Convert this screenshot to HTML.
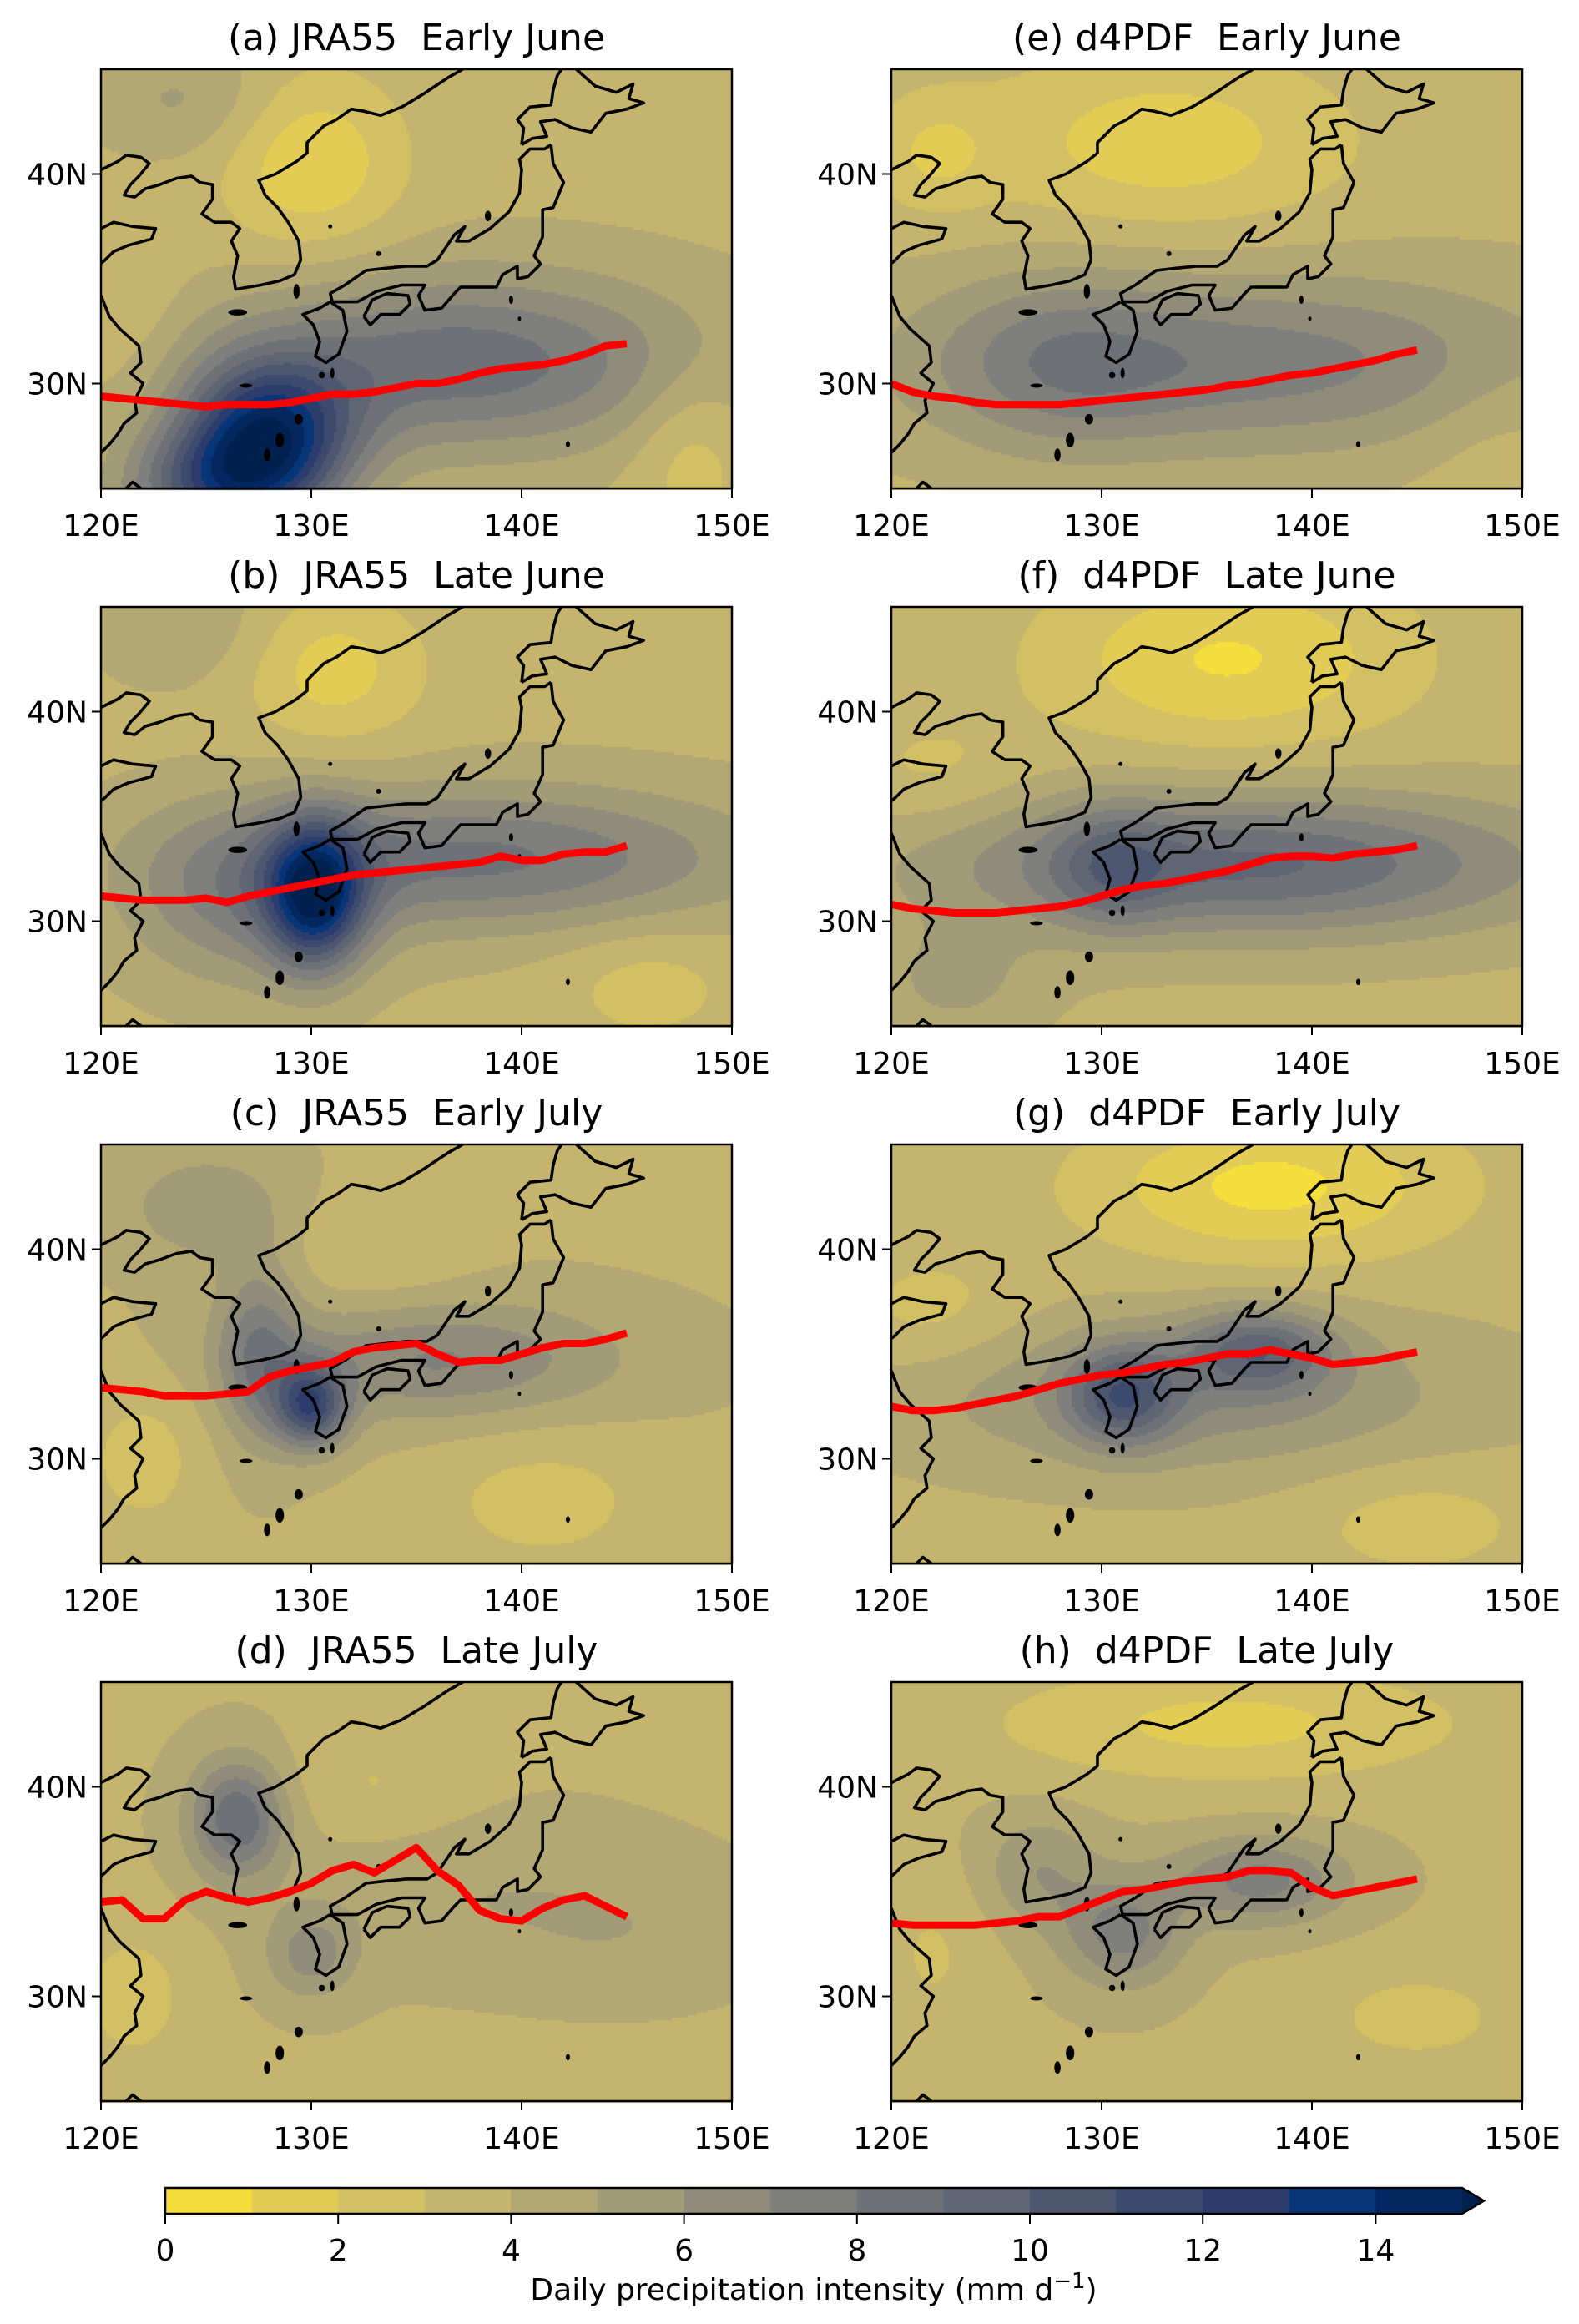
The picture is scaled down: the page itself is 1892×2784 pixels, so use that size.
<!DOCTYPE html>
<html><head><meta charset="utf-8">
<style>
html,body{margin:0;padding:0;background:#fff;}
#wrap{position:relative;width:1892px;height:2784px;overflow:hidden;font-family:"DejaVu Sans","Liberation Sans",sans-serif;color:#000;}
canvas{position:absolute;left:0;top:0;}
svg{position:absolute;left:0;top:0;}
svg text{white-space:pre;}
</style></head>
<body>
<div id="wrap">
<canvas id="cv" width="1892" height="2784"></canvas>
<svg id="sv" width="1892" height="2784" xmlns="http://www.w3.org/2000/svg"></svg>
</div>
<script>
// ---- data ----
const panelTitles = ["(a) JRA55  Early June","(b)  JRA55  Late June","(c)  JRA55  Early July","(d)  JRA55  Late July",
                     "(e) d4PDF  Early June","(f)  d4PDF  Late June","(g)  d4PDF  Early July","(h)  d4PDF  Late July"];
const frontLons = [120,121,122,123,124,125,126,127,128,129,130,131,132,133,134,135,136,137,138,139,140,141,142,143,144,145];
const frontA = [29.4,29.3,29.2,29.1,29.0,28.9,29.0,29.0,29.0,29.1,29.3,29.5,29.5,29.6,29.8,30.0,30.0,30.2,30.5,30.7,30.8,30.9,31.1,31.4,31.8,31.9];
const frontB = [31.2,31.1,31.0,31.0,31.0,31.1,30.9,31.2,31.4,31.6,31.8,32.0,32.2,32.3,32.4,32.5,32.6,32.7,32.8,33.1,32.9,32.9,33.2,33.3,33.3,33.6];
const frontC = [33.4,33.3,33.2,33.0,33.0,33.0,33.1,33.2,33.9,34.2,34.4,34.6,35.1,35.3,35.4,35.5,35.0,34.6,34.7,34.7,35.0,35.3,35.5,35.5,35.7,36.0];
const frontD = [34.5,34.6,33.7,33.7,34.6,35.0,34.7,34.5,34.7,35.0,35.4,36.0,36.3,35.9,36.5,37.1,36.0,35.3,34.1,33.7,33.6,34.2,34.6,34.8,34.3,33.8];
const frontE = [30.0,29.6,29.4,29.3,29.1,29.0,29.0,29.0,29.0,29.1,29.2,29.3,29.4,29.5,29.6,29.7,29.9,30.0,30.2,30.4,30.5,30.7,30.9,31.1,31.4,31.6];
const frontF = [30.8,30.6,30.5,30.4,30.4,30.4,30.5,30.6,30.7,30.9,31.2,31.5,31.7,31.8,32.0,32.2,32.4,32.7,33.0,33.1,33.1,33.0,33.2,33.3,33.4,33.6];
const frontG = [32.5,32.3,32.3,32.4,32.6,32.8,33.0,33.3,33.6,33.8,34.0,34.1,34.3,34.5,34.6,34.8,35.0,35.0,35.2,35.0,34.8,34.5,34.6,34.7,34.9,35.1];
const frontH = [33.5,33.4,33.4,33.4,33.4,33.5,33.6,33.8,33.8,34.2,34.6,35.0,35.1,35.3,35.5,35.6,35.7,36.0,36.0,35.9,35.2,34.8,35.0,35.2,35.4,35.6];
const fronts = [frontA,frontB,frontC,frontD,frontE,frontF,frontG,frontH];
// precipitation base (mm/d) and anomaly blobs [lon, lat, amplitude, sigmaLon, sigmaLat]
const baseVals = [3.7,3.7,3.9,3.9,3.7,3.7,3.7,3.9];
const blobsA = [[130,40.5,-2.6,3,3],[137,31,5,8,3],[128,27.5,9,2.8,2.5],[125.5,25,6,3,2],[124,43.5,1.5,3,2],[121,34,-1,2,3],[148,27,-1.5,2,3]];
const blobsB = [[131,42,-2.2,3,2.5],[130.2,31.2,8.5,1.6,2.4],[138,33,4.5,9,2.4],[127,31,3,4,3],[124,44,1.2,3,2],[146,27,-1.2,3,2]];
const blobsC = [[130,32.5,7,1.2,1.4],[127.5,35,3.5,1.4,3],[136,34.7,3.2,6,2],[122,30,-1.4,2,2.5],[141,28,-1.3,4,2.5],[125,42,1.8,3,2],[133,40,-1,3,2]];
const blobsD = [[126.5,38.5,5,1.6,2],[130,32,2.5,1.5,1.5],[121.5,30,-1.4,2,2.5],[133,40,-1,3,2],[137,35,1,6,2.5],[145,33,0.8,4,2]];
const blobsE = [[133,41.5,-2.3,6,3],[122,41,-1.6,2,2],[137,31,3.8,11,3],[128,31,2,4,3],[149,28,-0.8,3,3]];
const blobsF = [[136,42.5,-2.8,6,3],[137,32.7,5.5,10,2.4],[130.5,32.5,2.5,2,2],[122,37,-1,3,2],[123,27,1.5,3,2]];
const blobsG = [[138,43,-3,6,2.5],[131,33,5,1.8,1.6],[137.5,35.2,4.5,2.5,1.4],[134,33,2.8,9,2.6],[122,37,-1.2,3,2],[145,27,-1.2,4,2]];
const blobsH = [[136,43,-2.2,8,2],[131,33,3.5,2,1.8],[137.5,35.5,3.5,3,1.5],[127,36,2,2,2],[145,29,-1.2,4,2],[122,32,-1,2,3]];
const blobs = [blobsA,blobsB,blobsC,blobsD,blobsE,blobsF,blobsG,blobsH];
// colour levels 0..15 + extend
const levelColors = ["#f6de3c","#e2cc56","#d3c064","#c5b46d","#b3a773","#a29b78","#908c7a","#7f7f7d","#6f7177","#5f6573","#4d5870","#3c4a6e","#2c3d6d","#083577","#03285f","#002150"];
const cbTicks = [0,2,4,6,8,10,12,14];
const lonTicks = [120,130,140,150];
const latTicks = [30,40];
// coastlines (lon,lat)
const coasts = [
 [[120,40.2],[120.8,40.6],[121.2,40.9],[121.9,40.8],[122.3,40.5],[121.8,39.9],[121.4,39.5],[121.1,39.0],[121.6,38.9],[122.1,39.3],[122.8,39.5],[123.6,39.8],[124.3,39.9],[124.7,39.6],[125.3,39.5],[125.3,38.8],[124.8,38.1],[125.4,37.7],[126.2,37.7],[126.6,37.4],[126.2,36.8],[126.5,36.1],[126.3,35.1],[126.4,34.5],[127.0,34.6],[127.6,34.7],[128.5,34.9],[129.2,35.2],[129.5,35.9],[129.4,36.8],[128.9,37.7],[128.4,38.4],[127.8,39.0],[127.5,39.7],[128.3,40.0],[129.3,40.6],[129.8,41.0],[129.8,41.5],[130.6,42.3],[131.2,42.6],[131.9,43.1],[132.5,43.0],[133.3,42.8],[134.3,43.2],[135.3,43.8],[136.5,44.6],[137.2,45]],
 [[120,37.4],[120.6,37.7],[121.5,37.5],[122.6,37.4],[122.4,36.9],[121.3,36.6],[120.6,36.3],[120.2,35.9],[119.6,35.4]],
 [[120,34.2],[120.4,33.2],[120.9,32.6],[121.8,31.8],[121.9,31.0],[121.4,30.5],[122.0,30.0],[121.6,29.2],[121.7,28.6],[121.1,28.1],[120.8,27.6],[120.4,27.1],[120.0,26.7]],
 [[121.2,25.0],[121.5,25.3],[121.9,25.0]],
 [[140.0,41.4],[140.1,42.2],[139.8,42.6],[140.4,43.2],[141.4,43.3],[141.5,44.0],[141.7,44.7],[141.9,45.0]],
 [[142.6,45],[143.5,44.2],[144.5,43.9],[145.3,44.3],[145.1,43.6],[145.8,43.4],[145.0,43.1],[144.0,42.9],[143.3,42.0],[142.4,42.2],[141.6,42.6],[140.9,42.5],[141.2,41.8],[140.5,41.7],[140.0,41.4]],
 [[141.4,41.4],[141.5,40.5],[142.0,39.6],[141.5,38.4],[141.0,38.3],[141.0,37.0],[140.6,36.1],[140.9,35.7],[140.3,35.1],[139.8,35.0],[139.8,35.6],[139.1,35.2],[138.8,34.6],[138.2,34.6],[137.1,34.6],[136.8,34.3],[136.2,33.6],[135.4,33.5],[135.1,34.2],[135.4,34.7],[134.3,34.7],[133.1,34.4],[132.2,33.9],[131.0,33.9],[130.9,34.3],[131.6,34.7],[132.6,35.4],[133.5,35.5],[134.5,35.6],[135.5,35.6],[136.0,35.9],[136.8,37.1],[137.3,37.5],[136.9,36.8],[137.5,36.8],[138.5,37.4],[139.4,38.2],[139.9,39.1],[140.0,40.2],[139.9,40.7],[140.4,41.2],[141.1,41.2],[141.4,41.4]],
 [[132.5,33.2],[132.8,32.8],[133.3,33.3],[134.2,33.3],[134.7,33.8],[134.6,34.2],[133.6,34.3],[132.9,34.0],[132.5,33.2]],
 [[130.9,33.9],[131.5,33.5],[131.7,32.5],[131.3,31.4],[130.7,31.0],[130.2,31.3],[130.4,32.0],[130.1,32.8],[129.6,33.3],[130.4,33.6],[130.9,33.9]]
];
const islands = [[129.3,34.4,0.15,0.35],[126.5,33.4,0.45,0.15],[129.4,28.3,0.2,0.25],[128.5,27.3,0.2,0.35],[127.9,26.6,0.15,0.3],[130.5,30.4,0.15,0.15],[131.0,30.5,0.1,0.25],[130.9,37.5,0.1,0.1],[133.2,36.2,0.12,0.12],[138.4,38.0,0.15,0.25],[139.5,34.0,0.1,0.2],[142.2,27.1,0.1,0.15],[139.9,33.1,0.08,0.1],[126.9,29.9,0.3,0.1]];

// ---- layout ----
const colX = [121,1068], rowY = [83,727,1371,2015], PW = 756, PH = 502;
function px(p){return colX[Math.floor(p/4)];}
function py(p){return rowY[p%4];}
function xOf(p,lon){return px(p)+(lon-120)/30*PW;}
function yOf(p,lat){return py(p)+(45-lat)/20*PH;}
function field(p,lon,lat){
  let v = baseVals[p];
  for(const b of blobs[p]){
    const dx=(lon-b[0])/b[3], dy=(lat-b[1])/b[4];
    v += b[2]*Math.exp(-0.5*(dx*dx+dy*dy));
  }
  return v;
}
function levelColor(v){let i=Math.floor(v);if(i<0)i=0;if(i>15)i=15;return levelColors[i];}

const ctx = document.getElementById('cv').getContext('2d');
const step = 3;
for(let p=0;p<8;p++){
  for(let yy=0;yy<PH;yy+=step){
    for(let xx=0;xx<PW;xx+=step){
      const lon=120+(xx+step/2)/PW*30, lat=45-(yy+step/2)/PH*20;
      ctx.fillStyle=levelColor(field(p,lon,lat));
      ctx.fillRect(px(p)+xx,py(p)+yy,step,step);
    }
  }
}
// colorbar
const cbX0=198, cbUnit=103.6, cbY=2621, cbH=31;
for(let i=0;i<15;i++){ctx.fillStyle=levelColors[i];ctx.fillRect(cbX0+i*cbUnit,cbY,cbUnit+1,cbH);}
ctx.fillStyle=levelColors[15];
ctx.beginPath();ctx.moveTo(cbX0+15*cbUnit,cbY);ctx.lineTo(cbX0+15*cbUnit+26,cbY+cbH/2);ctx.lineTo(cbX0+15*cbUnit,cbY+cbH);ctx.closePath();ctx.fill();

// ---- SVG overlay ----
const NS="http://www.w3.org/2000/svg";
const sv=document.getElementById('sv');
function mk(tag,attrs,parent){const e=document.createElementNS(NS,tag);for(const k in attrs)e.setAttribute(k,attrs[k]);(parent||sv).appendChild(e);return e;}
for(let p=0;p<8;p++){
  const g=mk('g',{});
  
  
  const cid='clip'+p;
  const cp=mk('clipPath',{id:cid},g);
  mk('rect',{x:px(p),y:py(p),width:PW,height:PH},cp);
  const cg=mk('g',{'clip-path':'url(#'+cid+')'},g);
  for(const c of coasts){
    const d=c.map((q,i)=>(i?'L':'M')+xOf(p,q[0]).toFixed(1)+' '+yOf(p,q[1]).toFixed(1)).join('');
    const pe=mk('path',{d:d,fill:'none',stroke:'#000','stroke-width':3.6,'stroke-linejoin':'round'},cg);
    
    
  }
  for(const is of islands){
    mk('ellipse',{cx:xOf(p,is[0]),cy:yOf(p,is[1]),rx:is[2]/30*PW,ry:is[3]/20*PH,fill:'#000'},cg);
  }
  const fr=fronts[p];
  const d=frontLons.map((lon,i)=>(i?'L':'M')+xOf(p,lon).toFixed(1)+' '+yOf(p,fr[i]).toFixed(1)).join('');
  const fl=mk('path',{d:d,fill:'none',stroke:'#ff0000','stroke-width':9,'stroke-linejoin':'round'},cg);
  
  
  const fr2=mk('rect',{x:px(p),y:py(p),width:PW,height:PH,fill:'none',stroke:'#000','stroke-width':2.5},g);
  
  
  const t=mk('text',{x:px(p)+PW/2,y:py(p)-23,'text-anchor':'middle','font-size':44},g);
  t.textContent=panelTitles[p];
  
  
  for(const lon of lonTicks){
    const x=xOf(p,lon);
    mk('line',{x1:x,x2:x,y1:py(p)+PH,y2:py(p)+PH+11,stroke:'#000','stroke-width':2},g);
    const tl=mk('text',{x:x,y:py(p)+PH+57,'text-anchor':'middle','font-size':36},g);
    tl.textContent=lon+'E';
    
    
  }
  for(const lat of latTicks){
    const y=yOf(p,lat);
    mk('line',{x1:px(p)-11,x2:px(p),y1:y,y2:y,stroke:'#000','stroke-width':2},g);
    const tl=mk('text',{x:px(p)-16,y:y+13,'text-anchor':'end','font-size':36},g);
    tl.textContent=lat+'N';
    
    
  }
}
const cbg=mk('g',{});


const xe=cbX0+15*cbUnit;
mk('path',{d:`M${cbX0} ${cbY}L${xe} ${cbY}L${xe+26} ${cbY+cbH/2}L${xe} ${cbY+cbH}L${cbX0} ${cbY+cbH}Z`,fill:'none',stroke:'#000','stroke-width':2.5},cbg);
for(const v of cbTicks){
  const x=cbX0+v*cbUnit;
  mk('line',{x1:x,x2:x,y1:cbY+cbH,y2:cbY+cbH+12,stroke:'#000','stroke-width':2},cbg);
  const tl=mk('text',{x:x,y:2708,'text-anchor':'middle','font-size':36},cbg);
  tl.textContent=String(v);
  
  
}
const lab=mk('text',{x:cbX0+7.5*cbUnit,y:2755,'text-anchor':'middle','font-size':36},cbg);
lab.innerHTML='Daily precipitation intensity (mm d<tspan dy="-14" font-size="26">−1</tspan><tspan dy="14">)</tspan>';


</script>
</body></html>
